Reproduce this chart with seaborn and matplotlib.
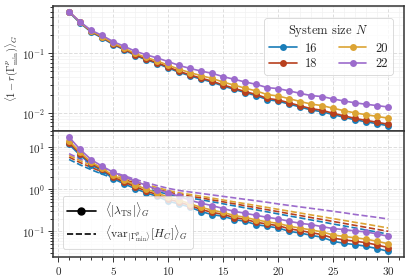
import numpy as np
import pandas as pd
import matplotlib
matplotlib.use("Agg")
import matplotlib.pyplot as plt
from matplotlib.lines import Line2D
import seaborn as sns

# dados
p = list(range(1, 31))
tamanhos = [16, 18, 20, 22]
cores = {16: '#1a7db8', 18: '#b8401e', 20: '#dca434', 22: '#9c6bcc'}

# <1 - r(Gamma)>_G  (painel superior)
erro_16 = [0.490, 0.322, 0.228, 0.181, 0.141, 0.115, 0.0923, 0.0784, 0.0678, 0.0572,
           0.0484, 0.0421, 0.0371, 0.0331, 0.0285, 0.0251, 0.0221, 0.0197, 0.0169, 0.0159,
           0.0142, 0.0127, 0.0113, 0.0106, 0.00946, 0.00856, 0.00774, 0.00719, 0.00667, 0.00617]
erro_18 = [0.501, 0.330, 0.233, 0.186, 0.145, 0.118, 0.0951, 0.0809, 0.0700, 0.0592,
           0.0501, 0.0437, 0.0385, 0.0344, 0.0296, 0.0261, 0.0230, 0.0206, 0.0177, 0.0167,
           0.0149, 0.0133, 0.0119, 0.0112, 0.00995, 0.00902, 0.00817, 0.00759, 0.00705, 0.00653]
erro_20 = [0.501, 0.332, 0.237, 0.191, 0.149, 0.123, 0.0998, 0.0856, 0.0746, 0.0636,
           0.0543, 0.0477, 0.0424, 0.0382, 0.0332, 0.0295, 0.0262, 0.0236, 0.0205, 0.0194,
           0.0175, 0.0157, 0.0142, 0.0134, 0.0121, 0.0110, 0.0101, 0.00943, 0.00883, 0.00825]
erro_22 = [0.500, 0.337, 0.244, 0.200, 0.158, 0.132, 0.109, 0.095, 0.084, 0.073,
           0.063, 0.056, 0.0507, 0.0464, 0.0409, 0.0369, 0.0333, 0.0304, 0.0268, 0.0258,
           0.0236, 0.0215, 0.0197, 0.0190, 0.0173, 0.0160, 0.0149, 0.0141, 0.0134, 0.0127]

# <|lambda_TS|>_G  (painel inferior, linhas cheias)
lam_16 = [11.6, 6.45, 3.86, 2.78, 1.79, 1.34, 1.04, 0.818, 0.681, 0.518,
          0.448, 0.373, 0.295, 0.249, 0.228, 0.190, 0.173, 0.144, 0.132, 0.120,
          0.100, 0.0912, 0.0803, 0.0720, 0.0578, 0.0518, 0.0482, 0.0440, 0.0387, 0.0334]
lam_18 = [12.8, 6.98, 4.14, 2.95, 1.96, 1.48, 1.15, 0.908, 0.746, 0.581,
          0.497, 0.410, 0.330, 0.282, 0.253, 0.212, 0.193, 0.164, 0.149, 0.136,
          0.115, 0.104, 0.0929, 0.0832, 0.0687, 0.0624, 0.0581, 0.0535, 0.0472, 0.0410]
lam_20 = [14.2, 7.55, 4.43, 3.13, 2.14, 1.64, 1.27, 1.01, 0.817, 0.650,
          0.552, 0.451, 0.370, 0.319, 0.281, 0.238, 0.215, 0.186, 0.168, 0.154,
          0.132, 0.119, 0.108, 0.0964, 0.0817, 0.0753, 0.0700, 0.0650, 0.0578, 0.0504]
lam_22 = [17.3, 8.81, 5.08, 3.53, 2.54, 2.00, 1.55, 1.24, 0.982, 0.818,
          0.681, 0.547, 0.464, 0.408, 0.347, 0.299, 0.268, 0.240, 0.215, 0.197,
          0.173, 0.155, 0.144, 0.129, 0.116, 0.110, 0.102, 0.0964, 0.0865, 0.0760]

# <var[H_C]>_G  (painel inferior, tracejado)
var_16 = [5.10, 3.80, 2.92, 2.29, 1.84, 1.50, 1.23, 1.04, 0.881, 0.759,
          0.676, 0.617, 0.562, 0.504, 0.451, 0.404, 0.361, 0.324, 0.290, 0.259,
          0.232, 0.208, 0.186, 0.167, 0.149, 0.134, 0.120, 0.107, 0.0959, 0.0859]
var_18 = [5.80, 4.32, 3.31, 2.60, 2.09, 1.70, 1.40, 1.17, 1.00, 0.861,
          0.759, 0.684, 0.622, 0.558, 0.502, 0.451, 0.405, 0.364, 0.327, 0.293,
          0.263, 0.237, 0.212, 0.191, 0.171, 0.154, 0.138, 0.124, 0.111, 0.100]
var_20 = [6.40, 4.79, 3.72, 2.95, 2.34, 1.91, 1.57, 1.30, 1.10, 0.933,
          0.822, 0.750, 0.681, 0.615, 0.555, 0.501, 0.453, 0.409, 0.369, 0.333,
          0.301, 0.272, 0.245, 0.222, 0.200, 0.181, 0.163, 0.148, 0.133, 0.120]
var_22 = [7.00, 5.25, 4.07, 3.24, 2.57, 2.09, 1.72, 1.45, 1.22, 1.05,
          0.933, 0.861, 0.794, 0.733, 0.676, 0.624, 0.575, 0.531, 0.490, 0.447,
          0.412, 0.380, 0.351, 0.324, 0.299, 0.275, 0.251, 0.232, 0.214, 0.196]

erros = {16: erro_16, 18: erro_18, 20: erro_20, 22: erro_22}
lams = {16: lam_16, 18: lam_18, 20: lam_20, 22: lam_22}
vars_ = {16: var_16, 18: var_18, 20: var_20, 22: var_22}

sns.set_style("whitegrid")
plt.rcParams['font.family'] = 'serif'
plt.rcParams['font.serif'] = ['cmr10', 'DejaVu Serif']
plt.rcParams['mathtext.fontset'] = 'cm'
plt.rcParams['axes.formatter.use_mathtext'] = True
plt.rcParams['axes.unicode_minus'] = False

fig, (ax1, ax2) = plt.subplots(2, 1, figsize=(4.12, 2.80), dpi=100, sharex=True)
fig.subplots_adjust(left=0.129, right=0.981, bottom=0.082, top=0.979, hspace=0)

ms = 5
for n in tamanhos:
    df = pd.DataFrame({'p': p, 'erro': erros[n], 'lam': lams[n], 'var': vars_[n]})
    sns.lineplot(data=df, x='p', y='erro', ax=ax1, color=cores[n], marker='o',
                 markersize=ms, markeredgewidth=0, linewidth=1.2, label=str(n))
    sns.lineplot(data=df, x='p', y='var', ax=ax2, color=cores[n], linestyle='--',
                 linewidth=1.2, legend=False, zorder=2)
for n in tamanhos:
    df = pd.DataFrame({'p': p, 'lam': lams[n]})
    sns.lineplot(data=df, x='p', y='lam', ax=ax2, color=cores[n], marker='o',
                 markersize=ms, markeredgewidth=0, linewidth=1.2, legend=False, zorder=3)

for ax in (ax1, ax2):
    ax.set_yscale('log')
    ax.set_xlabel('')
    ax.set_ylabel('')
    ax.minorticks_on()
    ax.grid(True, which='major', linestyle='--', color='#dddddd', linewidth=0.7)
    ax.grid(True, which='minor', linestyle='-', color='#f2f2f2', linewidth=0.5)
    for s in ax.spines.values():
        s.set_color('#333333')
        s.set_linewidth(1.1)
    ax.tick_params(axis='both', which='both', direction='out', length=2.5,
                   width=0.7, labelsize=8, color='#333333', right=False, top=False,
                   left=True, bottom=True, pad=2)
    ax.tick_params(axis='both', which='major', length=3.5)

ax2.set_xticks([0, 5, 10, 15, 20, 25, 30])
ax2.xaxis.set_minor_locator(matplotlib.ticker.MultipleLocator(1))
ax1.tick_params(axis='x', which='both', bottom=False, labelbottom=False)
ax1.set_ylabel(r'$\langle 1 - r(\Gamma^{p}_{\min})\rangle_G$', fontsize=7.5, labelpad=2)

leg1 = ax1.legend(title=r'System size $N$', ncol=2, loc='upper right', fontsize=9,
                  title_fontsize=9, frameon=True, handlelength=2.2, columnspacing=1.7,
                  borderpad=0.4, labelspacing=0.25, handletextpad=0.7,
                  bbox_to_anchor=(0.985, 0.95))
leg1.get_frame().set_edgecolor('#cccccc')
leg1.get_frame().set_linewidth(0.6)

handles = [Line2D([], [], color='black', marker='o', markersize=ms, linewidth=1.2),
           Line2D([], [], color='black', linestyle='--', linewidth=1.2)]
labels = [r'$\langle|\lambda_{\mathrm{TS}}|\rangle_G$',
          r'$\langle \mathrm{var}_{|\Gamma^{p}_{\min}\rangle}[H_C]\rangle_G$']
leg2 = ax2.legend(handles, labels, loc='lower left', fontsize=8.5, frameon=True,
                  handlelength=2.4, borderpad=0.4, labelspacing=0.3,
                  bbox_to_anchor=(0.01, 0.02))
leg2.get_frame().set_edgecolor('#cccccc')
leg2.get_frame().set_linewidth(0.6)

plt.savefig('out.png', dpi=100)
plt.close()
